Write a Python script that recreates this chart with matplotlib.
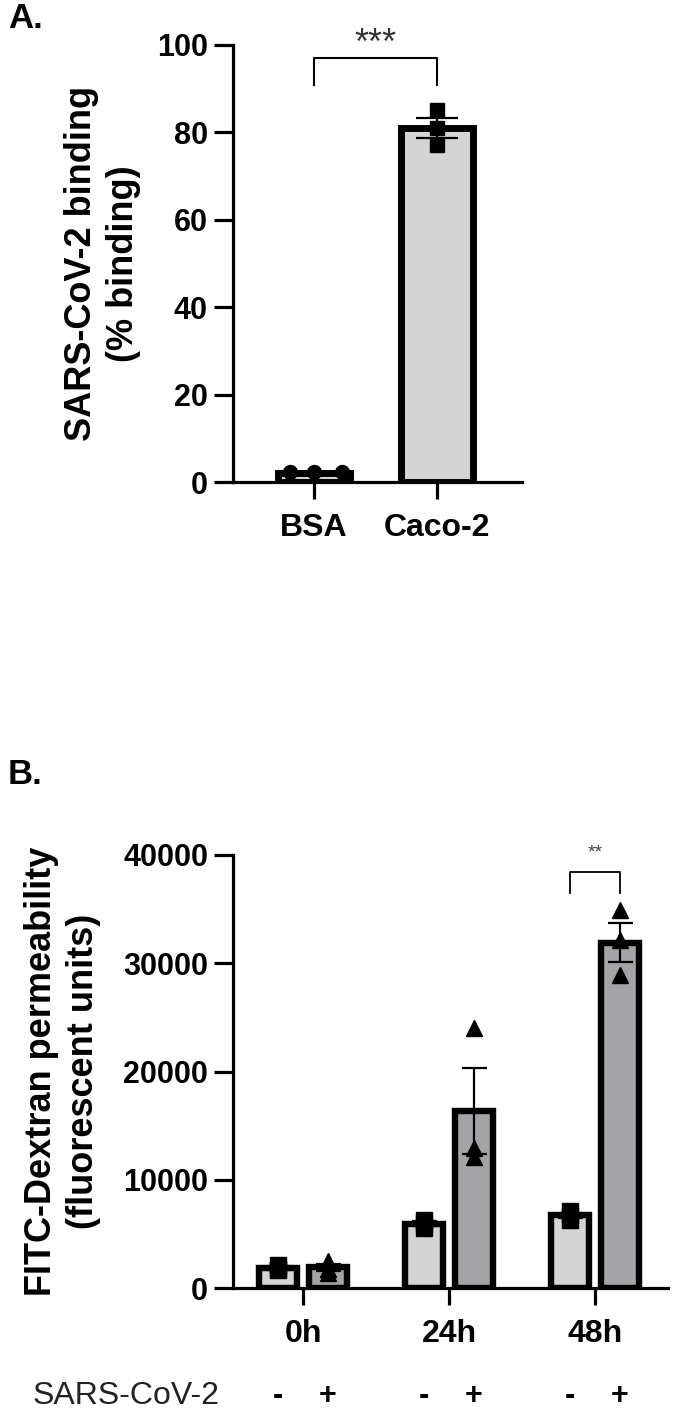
import matplotlib
matplotlib.use('Agg')
from matplotlib import pyplot as plt
from matplotlib import transforms as mtransforms
import numpy as np

plt.rcParams['font.family'] = ['Liberation Sans', 'DejaVu Sans']

# --- panel A data: SARS-CoV-2 binding ---
a_groups = ['BSA', 'Caco-2']
a_means = [2.0, 81.1]
a_sem = [0.1, 2.3]
a_points = [[2.3, 2.2, 2.3], [85.2, 81.0, 77.2]]
a_sig = '***'

# --- panel B data: FITC-Dextran permeability ---
b_groups = ['0h', '24h', '48h']
b_mock_means = [1850, 5950, 6700]
b_mock_sem = [180, 200, 230]
b_mock_points = [[2100, 1800, 1650], [6300, 6000, 5550], [7100, 6700, 6300]]
b_cov_means = [1900, 16350, 31900]
b_cov_sem = [330, 4000, 1800]
b_cov_points = [[2500, 1800, 1400], [24000, 12900, 12100], [34900, 32150, 28900]]
b_sig = '**'
b_signs = ['-', '+']

light = '#d4d4d4'
dark = '#a4a4a8'

fig = plt.figure(figsize=(6.78, 14.15), dpi=100)
W, H = 678, 1415


def px_axes(l, r, top, bot):
    return fig.add_axes([l / W, 1 - bot / H, (r - l) / W, (bot - top) / H])


def style(ax):
    for s in ['top', 'right']:
        ax.spines[s].set_visible(False)
    for s in ['left', 'bottom']:
        ax.spines[s].set_linewidth(2.3)
    ax.tick_params(axis='y', length=14, width=2.3, labelsize=22, pad=4)
    ax.tick_params(axis='x', length=12, width=2.3, labelsize=23, pad=10)
    for lab in ax.get_xticklabels() + ax.get_yticklabels():
        lab.set_fontweight('bold')


# ---------------- Panel A ----------------
axA = px_axes(233, 522, 45, 482)
xa = np.arange(len(a_groups))
axA.bar(xa, a_means, width=0.585, color=light, edgecolor='black', linewidth=5, zorder=2)
a_offsets = [[-0.2, 0.0, 0.23], [0.0, 0.0, 0.0]]
a_markers = ['o', 's']
for i, pts in enumerate(a_points):
    axA.plot(xa[i] + np.array(a_offsets[i]), pts, a_markers[i], color='black',
             markersize=10, zorder=3, clip_on=False)
axA.errorbar(xa, a_means, yerr=a_sem, fmt='none', ecolor='black', elinewidth=1.6,
             capsize=15, capthick=1.6, zorder=4)
axA.set_xlim(-0.66, 1.69)
axA.set_ylim(0, 100)
axA.set_yticks([0, 20, 40, 60, 80, 100])
axA.set_xticks(xa)
axA.set_xticklabels(a_groups)
style(axA)
axA.set_ylabel('SARS-CoV-2 binding\n(% binding)', fontsize=26, fontweight='bold',
               linespacing=1.25)
axA.yaxis.set_label_coords(-0.32, 0.5)
# significance bracket
axA.plot([xa[0], xa[0], xa[1], xa[1]], [90.8, 97, 97, 90.8], color='black', lw=1.5,
         clip_on=False)
axA.text((xa[0] + xa[1]) / 2, 100.2, a_sig, ha='center', va='center', fontsize=26,
         color='#333333')
fig.text(8 / W, 1 - 18 / H, 'A.', fontsize=25, fontweight='bold', va='center', ha='left')

# ---------------- Panel B ----------------
axB = px_axes(233, 668, 855, 1288)
xb = np.arange(len(b_groups))
off = 0.17
bw = 0.257
axB.bar(xb - off, b_mock_means, width=bw, color=light, edgecolor='black', linewidth=4.6, zorder=2)
axB.bar(xb + off, b_cov_means, width=bw, color=dark, edgecolor='black', linewidth=4.6, zorder=2)
for i in range(len(b_groups)):
    axB.plot([xb[i] - off] * 3, b_mock_points[i], 's', color='black', markersize=12, zorder=3)
    axB.plot([xb[i] + off] * 3, b_cov_points[i], '^', color='black', markersize=12, zorder=3)
axB.errorbar(xb - off, b_mock_means, yerr=b_mock_sem, fmt='none', ecolor='black',
             elinewidth=1.6, capsize=9, capthick=1.6, zorder=4)
axB.errorbar(xb + off, b_cov_means, yerr=b_cov_sem, fmt='none', ecolor='black',
             elinewidth=1.6, capsize=9, capthick=1.6, zorder=4)
axB.set_xlim(-0.48, 2.5)
axB.set_ylim(0, 40000)
axB.set_yticks([0, 10000, 20000, 30000, 40000])
axB.set_xticks(xb)
axB.set_xticklabels(b_groups)
style(axB)
axB.set_ylabel('FITC-Dextran permeability\n(fluorescent units)', fontsize=26,
               fontweight='bold', linespacing=1.25)
axB.yaxis.set_label_coords(-0.303, 0.5)
# significance bracket at 48h
axB.plot([xb[2] - off, xb[2] - off, xb[2] + off, xb[2] + off],
         [36500, 38400, 38400, 36500], color='black', lw=1.3, clip_on=False)
axB.text(xb[2], 40200, b_sig, ha='center', va='center', fontsize=14, color='#444444')
fig.text(8 / W, 1 - 774 / H, 'B.', fontsize=25, fontweight='bold', va='center', ha='left')

# SARS-CoV-2 -/+ row under panel B
trans = mtransforms.blended_transform_factory(axB.transData, fig.transFigure)
row_y = 1 - 1396 / H
fig.text(33 / W, row_y, 'SARS-CoV-2', fontsize=23, color='#222222', va='center', ha='left')
for i in range(len(b_groups)):
    axB.text(xb[i] - off, row_y, b_signs[0], transform=trans, ha='center', va='center',
             fontsize=22, fontweight='bold')
    axB.text(xb[i] + off, row_y, b_signs[1], transform=trans, ha='center', va='center',
             fontsize=22, fontweight='bold')

fig.savefig('out.png', dpi=100)
